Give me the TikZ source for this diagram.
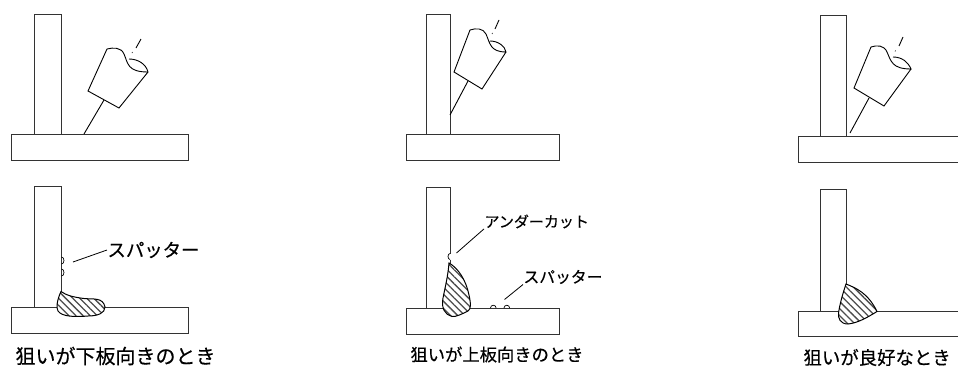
\documentclass[tikz,border=0pt]{standalone}
\usepackage{fontspec}
\setmainfont[RawFeature={embolden=0.4}]{Noto Sans CJK JP}
\usetikzlibrary{patterns.meta}

\begin{document}
\begin{tikzpicture} [x=1pt,y=-1pt,line width=1pt,
		plate/.style={draw,black!80},
		torch/.style={draw,black,line width=0.9pt},
		lead/.style={draw,black,line width=0.8pt},
		spatter/.style={draw,black,line width=0.7pt},
		bead/.style={draw,black,preaction={fill=white},pattern={Lines[angle=-45,distance=5pt,line width=1.3pt]},pattern color=black!70},
		caption/.style={inner sep=0pt,font=\fontsize{#1}{#1}\selectfont}]
	\useasboundingbox (0,0) rectangle (958,367);

	% plates, upper row
	\draw [plate] (34,14) rectangle (61,134);
	\draw [plate] (11,134) rectangle (188,160);
	\draw [plate] (426.5,14) rectangle (450,134);
	\draw [plate] (406.5,134) rectangle (559,160);
	\draw [plate] (820,15) rectangle (846,136);
	\draw [plate] (958.5,136) -- (798,136) -- (798,162) -- (958.5,162);

	% plates, lower row
	\draw [plate] (34,186.5) rectangle (61,307);
	\draw [plate] (11,307) rectangle (188,333);
	\draw [plate] (426.5,187.5) rectangle (450,308);
	\draw [plate] (406.5,308) rectangle (559,334);
	\draw [plate] (820,189.5) rectangle (846,311);
	\draw [plate] (958.5,311) -- (798,311) -- (798,336) -- (958.5,336);

	% torch 1
	\draw [torch] (148,72) -- (119,108) -- (88,91) -- (107,49)
		.. controls (113,47.5) and (121,47) .. (124,54)
		.. controls (128,63) and (127,72) .. (148,72)
		.. controls (146,64) and (138,59) .. (129,59);
	\coordinate (wire-1a) at (104,100);
	\coordinate (wire-1b) at (84,134);
	\draw [torch] (wire-1a) -- (wire-1b);
	\draw [torch] (141,39) -- (136,48);
	\draw [torch,line width=0.6pt] (132.5,52) -- (132,53);

	% torch 2
	\draw [torch] (506,52) -- (482,89) -- (454,72) -- (470,30)
		.. controls (476,28) and (483,28) .. (486,34)
		.. controls (490,43) and (490,52) .. (506,52)
		.. controls (505,46) and (498,41) .. (490,41);
	\coordinate (wire-2a) at (468,81);
	\coordinate (wire-2b) at (450,115);
	\draw [torch] (wire-2a) -- (wire-2b);
	\draw [torch] (499,20) -- (495,29);
	\draw [torch,line width=0.6pt] (492.5,33) -- (492,34);

	% torch 3
	\draw [torch] (911,69) -- (884,106) -- (854,88) -- (871,47)
		.. controls (877,45) and (884,45) .. (887,52)
		.. controls (891,61) and (892,69) .. (911,69)
		.. controls (908,62) and (902,57) .. (893,57);
	\coordinate (wire-3a) at (869,98);
	\coordinate (wire-3b) at (850,133);
	\draw [torch] (wire-3a) -- (wire-3b);
	\draw [torch] (903,37) -- (899,46);
	\draw [torch,line width=0.6pt] (895.5,50.5) -- (895,51.5);

	% beads
	\draw [bead] (61,291.5) .. controls (66,295) and (72,297) .. (84,298.5)
		.. controls (93,299.5) and (103,297) .. (105,307)
		.. controls (105,313) and (98,316) .. (88,316)
		.. controls (76,317) and (62,317) .. (58,311)
		.. controls (56,308) and (57,300) .. (61,291.5) -- cycle;
	\draw [bead] (449,263) .. controls (458,268) and (466,280) .. (469,295)
		.. controls (471,304) and (471,309) .. (468,311)
		.. controls (462,314) and (456,317) .. (452,316.5)
		.. controls (445,315) and (441,308) .. (443,298)
		.. controls (445,288) and (448,276) .. (449,263) -- cycle;
	\draw [bead] (846,284) .. controls (856,288) and (868,293) .. (877,311.5)
		.. controls (868,317) and (858,323) .. (848,324)
		.. controls (840,324) and (838,318) .. (838.5,313)
		.. controls (840,303) and (843,293) .. (846,284) -- cycle;

	% spatter
	\draw [spatter] (61.5,257) arc (-90:90:2.5 and 3.5);
	\draw [spatter] (61.5,269) arc (-90:90:2.5 and 3.5);
	\draw [spatter,fill=white,draw=white] (448.5,254) rectangle (451,259);
	\draw [spatter] (450,253.5) arc (-90:-270:2 and 3);
	\draw [spatter] (490.5,308) arc (180:360:2.8);
	\draw [spatter] (504,308) arc (180:360:2.8);

	% labels
	\node [caption=18.4,anchor=west] (label-sp1) at (107,250) {スパッター};
	\node [caption=15,anchor=west] (label-uc) at (484,221.5) {アンダーカット};
	\node [caption=15.8,anchor=west] (label-sp2) at (523,277) {スパッター};
	\node [caption=20,anchor=west] (caption-1) at (15,356) {狙いが下板向きのとき};
	\node [caption=17.3,anchor=west] (caption-2) at (410,354.5) {狙いが上板向きのとき};
	\node [caption=18.4,anchor=west] (caption-3) at (803,357.5) {狙いが良好なとき};

	\coordinate (lead-1) at (73,262);
	\coordinate (lead-2) at (456.5,253);
	\coordinate (lead-3) at (504.5,299.5);
	\draw [lead] (lead-1) -- (label-sp1.west);
	\draw [lead] (lead-2) -- (label-uc.south west);
	\draw [lead] (lead-3) -- (label-sp2.south west);
\end{tikzpicture}
\end{document}
